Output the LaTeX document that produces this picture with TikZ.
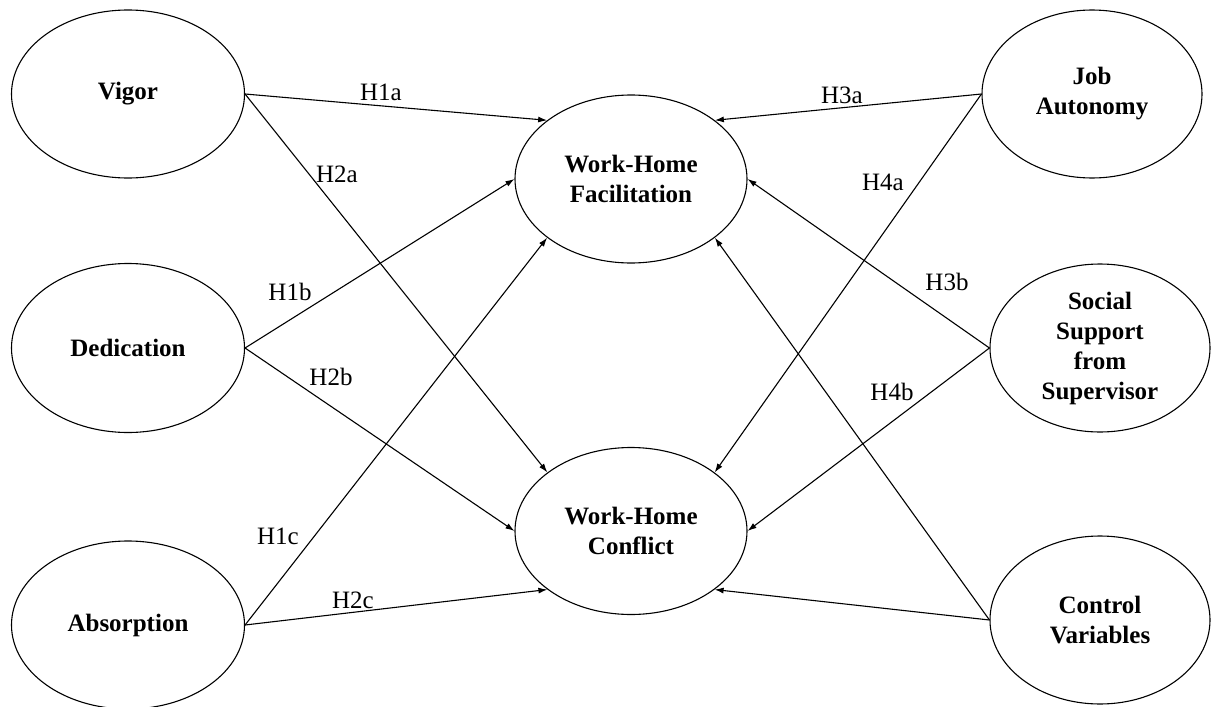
\documentclass[tikz,border=0pt]{standalone}
\usepackage{fontspec}
\setmainfont{Liberation Serif}
\usetikzlibrary{arrows.meta,shapes.geometric}
\begin{document}
\begin{tikzpicture}[x=1pt,y=-1pt,
  ell/.style={draw, ellipse, line width=1.1pt, inner sep=0pt, align=center,
    font=\fontsize{25}{30}\selectfont\bfseries},
  lbl/.style={font=\fontsize{25}{30}\selectfont, inner sep=0pt},
  arr/.style={line width=1.1pt, -{Latex[length=9pt,width=6pt]}}]
\useasboundingbox[fill=white] (0,0) rectangle (1211,707);
\clip (0,0) rectangle (1211,707);
% left
\node[ell, minimum width=233pt, minimum height=168pt] (vig) at (128,94) {Vigor};
\node[ell, minimum width=233pt, minimum height=169pt] (ded) at (128,348) {Dedication};
\node[ell, minimum width=233pt, minimum height=168pt] (abs) at (128,625) {Absorption};
% centre
\node[ell, minimum width=232pt, minimum height=168pt] (whf) at (631,179) {Work-Home\\Facilitation};
\node[ell, minimum width=232pt, minimum height=167pt] (whc) at (631,531) {Work-Home\\Conflict};
% right
\node[ell, minimum width=220pt, minimum height=168pt] (ja) at (1092,94) {Job\\Autonomy};
\node[ell, minimum width=220pt, minimum height=168pt] (ss) at (1100,348) {Social\\Support\\from\\Supervisor};
\node[ell, minimum width=220pt, minimum height=168pt] (cv) at (1100,620) {Control\\Variables};
% connectors
\draw[arr] (vig.east) -- (whf.145);
\draw[arr] (vig.east) -- (whc.145);
\draw[arr] (ded.east) -- (whf.180);
\draw[arr] (ded.east) -- (whc.180);
\draw[arr] (abs.east) -- (whf.215);
\draw[arr] (abs.east) -- (whc.215);
\draw[arr] (ja.west) -- (whf.35);
\draw[arr] (ja.west) -- (whc.35);
\draw[arr] (ss.west) -- (whf.0);
\draw[arr] (ss.west) -- (whc.0);
\draw[arr] (cv.west) -- (whf.325);
\draw[arr] (cv.west) -- (whc.325);
% labels
\node[lbl] (l1a) at (381,92) {H1a};
\node[lbl] (l2a) at (337,174) {H2a};
\node[lbl] (l1b) at (290,292) {H1b};
\node[lbl] (l2b) at (331,377) {H2b};
\node[lbl] (l1c) at (278,536) {H1c};
\node[lbl] (l2c) at (353,600) {H2c};
\node[lbl] (l3a) at (842,95) {H3a};
\node[lbl] (l4a) at (883,182) {H4a};
\node[lbl] (l3b) at (947,282) {H3b};
\node[lbl] (l4b) at (892,392) {H4b};
\end{tikzpicture}
\end{document}
